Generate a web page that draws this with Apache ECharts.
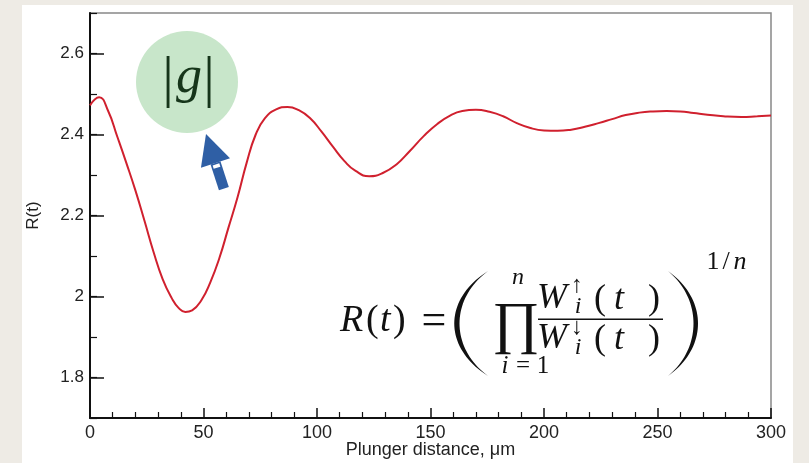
<!DOCTYPE html>
<html><head><meta charset="utf-8">
<script src="https://cdn.jsdelivr.net/npm/echarts@6/dist/echarts.min.js"></script>
<style>
html,body{margin:0;padding:0;background:#eeebe5;}
#panel{position:absolute;left:22px;top:5px;width:771px;height:458px;background:#fff;}
#chart{position:absolute;left:0;top:0;width:809px;height:463px;}
</style></head><body>
<div id="panel"></div><div id="chart"></div>
<script>
const distance = [0,4,8,12,16,20,24,28,32,36,39,42,45,49,53,57,61,65,69,73,77,82,87,92,97,102,107,112,117,123,129,135,141,147,153,159,164,170,176,182,188,194,200,206,212,218,224,230,236,242,248,254,260,266,272,279,287,294,300];
const ratio = [2.472,2.492,2.458,2.395,2.330,2.262,2.187,2.110,2.043,1.996,1.972,1.962,1.966,1.990,2.035,2.095,2.170,2.245,2.330,2.400,2.440,2.462,2.468,2.460,2.440,2.407,2.370,2.335,2.310,2.297,2.305,2.326,2.360,2.396,2.426,2.448,2.458,2.461,2.456,2.445,2.428,2.416,2.410,2.409,2.412,2.419,2.428,2.438,2.448,2.454,2.457,2.458,2.457,2.453,2.449,2.445,2.443,2.445,2.447];
const yMajorTicks = [1.8, 2, 2.2, 2.4, 2.6];
const xAxisTitle = 'Plunger distance, \u03bcm';
const yAxisTitle = 'R(t)';

const chart = echarts.init(document.getElementById('chart'), null, {renderer:'canvas'});
const sans = '"Liberation Sans", Arial, sans-serif';
const serif = '"Liberation Serif", "DejaVu Serif", serif';
const ink = '#222';

function arrow(){
  const tip=[206,134], d=[-0.311,-0.950], p=[0.950,-0.311];
  const base=[tip[0]-30.5*d[0], tip[1]-30.5*d[1]];
  const pt=(s,w)=>[base[0]-s*d[0]+w*p[0], base[1]-s*d[1]+w*p[1]];
  return [
    {type:'polygon', shape:{points:[tip, pt(0,15.3), pt(0,-15.3)]}, style:{fill:'#2f5fa5'}},
    {type:'polygon', shape:{points:[pt(0,5.2), pt(27,5.2), pt(27,-5.2), pt(0,-5.2)]}, style:{fill:'#2f5fa5'}},
    {type:'polygon', shape:{points:[pt(1.5,3.5), pt(5,3.5), pt(5,-3.5), pt(1.5,-3.5)]}, style:{fill:'#ffffff'}}
  ];
}
function paren(tipX, outerC, innerC, y0, y1){
  const pts=[];
  const bez=(t,c)=>{const a=(1-t)*(1-t)*(1-t), b=3*(1-t)*(1-t)*t, cc=3*(1-t)*t*t, dd=t*t*t;
    const ya=y0, yb=y0+(y1-y0)*0.27, yc=y0+(y1-y0)*0.73, yd=y1;
    return [a*tipX+b*c+cc*c+dd*tipX, a*ya+b*yb+cc*yc+dd*yd];};
  for(let i=0;i<=40;i++) pts.push(bez(i/40, outerC));
  for(let i=40;i>=0;i--) pts.push(bez(i/40, innerC));
  return {type:'polygon', shape:{points:pts}, style:{fill:'#111'}};
}
function txt(text, x, y, font, align){
  return {type:'text', style:{text:text, x:x, y:y, font:font, fill:'#111', align:align||'center', verticalAlign:'middle'}};
}
const F = 36, S = 24;
const it = 'italic '+F+'px '+serif, up = F+'px '+serif;
const itL = 'italic 38px '+serif, upL = '38px '+serif;
const formula = [
  txt('R', 340, 321, itL, 'left'),
  txt('(', 366, 321, upL, 'left'),
  txt('t', 380, 321, itL, 'left'),
  txt(')', 393, 321, upL, 'left'),
  txt('=', 434, 322, '44px '+serif),
  paren(488, 443, 450, 271, 376),
  paren(668, 708, 702, 271, 376),
  txt('\u220f', 516, 327, '58px '+serif),
  txt('n', 518, 278, 'italic '+S+'px '+serif),
  txt('i', 505, 366, 'italic 25px '+serif),
  txt('=', 523, 366, '25px '+serif),
  txt('1', 543, 366, '25px '+serif),
  txt('W', 537, 299, it, 'left'),
  txt('\u2191', 577, 286, S+'px '+serif),
  txt('i', 578, 307, 'italic '+S+'px '+serif),
  txt('(', 594, 300, up, 'left'),
  txt('t', 614, 300, it, 'left'),
  txt(')', 648, 300, up, 'left'),
  {type:'rect', shape:{x:538, y:318.5, width:125, height:1.6}, style:{fill:'#111'}},
  txt('W', 537, 339, it, 'left'),
  txt('\u2193', 577, 328, S+'px '+serif),
  txt('i', 578, 348, 'italic '+S+'px '+serif),
  txt('(', 594, 340, up, 'left'),
  txt('t', 614, 340, it, 'left'),
  txt(')', 648, 340, up, 'left'),
  txt('1', 713, 262, '26px '+serif),
  txt('/', 726, 262, '26px '+serif),
  txt('n', 740, 262, 'italic 26px '+serif)
];
const badge = [
  {type:'circle', shape:{cx:187, cy:82, r:51}, style:{fill:'#c8e6ca'}},
  txt('|', 168, 81, '58px '+serif),
  txt('g', 189, 78, 'italic 52px '+serif),
  txt('|', 209, 81, '58px '+serif)
];
badge.slice(1).forEach(e=>e.style.fill='#16351a');

const option = {
  animation:false,
  backgroundColor:'transparent',
  grid:{left:90, right:38, top:13, bottom:45, show:true, borderColor:'#888', borderWidth:1.5, backgroundColor:'transparent', containLabel:false, outerBoundsMode:'none'},
  xAxis:{type:'value', min:0, max:300, interval:50,
    name:xAxisTitle, nameLocation:'middle', nameGap:23, nameMoveOverlap:false, nameTextStyle:{fontFamily:sans, fontSize:18, color:ink},
    axisLine:{show:true, lineStyle:{color:'#111', width:2}},
    axisTick:{show:true, inside:true, length:10, lineStyle:{color:'#111', width:1.5}},
    minorTick:{show:true, splitNumber:5, length:6, lineStyle:{color:'#111', width:1.2}},
    axisLabel:{fontFamily:sans, fontSize:18, color:ink, margin:6},
    splitLine:{show:false}},
  yAxis:[
    {type:'value', min:1.7, max:2.7,
     name:yAxisTitle, nameLocation:'middle', nameGap:48, nameMoveOverlap:false, nameRotate:90, nameTextStyle:{fontFamily:sans, fontSize:17, color:ink},
     axisLine:{show:true, lineStyle:{color:'#111', width:2}},
     axisTick:{show:true, inside:true, length:14, customValues:yMajorTicks, lineStyle:{color:'#111', width:1.5}},
     axisLabel:{fontFamily:sans, fontSize:17, color:ink, margin:6, customValues:yMajorTicks},
     splitLine:{show:false}},
    {type:'value', min:1.7, max:2.7, interval:0.1, position:'left',
     axisLine:{show:false}, axisLabel:{show:false}, splitLine:{show:false},
     axisTick:{show:true, inside:true, length:7, lineStyle:{color:'#111', width:1.2}}}
  ],
  series:[{type:'line', data:distance.map((x,i)=>[x, ratio[i]]), yAxisIndex:0, smooth:0.5, showSymbol:false,
    lineStyle:{color:'#d0202e', width:2}, z:3}],
  graphic:{elements:[...badge, ...arrow(), ...formula]}
};
chart.setOption(option);
</script></body></html>
